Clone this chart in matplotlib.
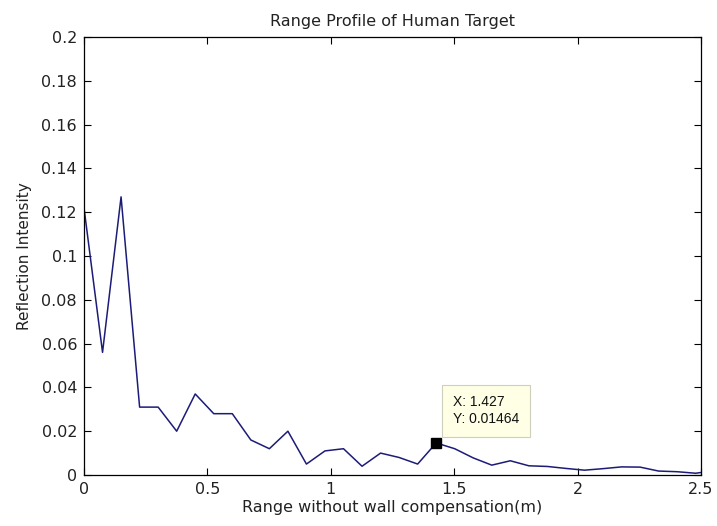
import numpy as np
import matplotlib.pyplot as plt

plt.rcParams['font.family'] = ['DejaVu Sans']

# range bins (m) and reflection intensity of the human target
step = 1.427 / 19
range_m = np.arange(35) * step
intensity = [0.122, 0.056, 0.127, 0.031, 0.031, 0.020, 0.037, 0.028, 0.028,
             0.016, 0.012, 0.020, 0.005, 0.011, 0.012, 0.004, 0.010, 0.008,
             0.005, 0.01464, 0.012, 0.0078, 0.0045, 0.0065, 0.0042, 0.0039,
             0.0030, 0.0022, 0.0029, 0.0037, 0.0036, 0.0018, 0.0015, 0.0008,
             0.0020]

tip_x = 1.427
tip_y = 0.01464

xticks = [0, 0.5, 1, 1.5, 2, 2.5]
xticklabels = ['0', '0.5', '1', '1.5', '2', '2.5']
yticks = np.arange(0, 0.201, 0.02)
yticklabels = ['0', '0.02', '0.04', '0.06', '0.08', '0.1', '0.12', '0.14',
               '0.16', '0.18', '0.2']

fig = plt.figure(figsize=(7.17, 5.26), dpi=100)
ax = fig.add_axes([84 / 717, 1 - 475 / 526, 617 / 717, 438 / 526])

ax.plot(range_m, intensity, color='#1c1c78', linewidth=1.1)
ax.plot([tip_x], [tip_y], marker='s', markersize=7, color='black',
        linestyle='none', zorder=5)

# data cursor box
ax.annotate('X: %.3f\nY: %.5f' % (tip_x, tip_y), xy=(tip_x, tip_y),
            xytext=(12, 12), textcoords='offset points', fontsize=10,
            family='Liberation Sans', linespacing=1.3, color='#111111',
            va='bottom', ha='left',
            bbox=dict(boxstyle='square,pad=0.75', fc='#ffffe6',
                      ec='#cfcfbe', lw=0.8))

ax.set_xlim(0, 2.5)
ax.set_ylim(0, 0.2)
ax.set_xticks(xticks)
ax.set_xticklabels(xticklabels)
ax.set_yticks(yticks)
ax.set_yticklabels(yticklabels)
ax.tick_params(direction='in', top=True, right=True, length=5, width=0.8,
               labelsize=11.5, pad=5, labelcolor='#222222')
for sp in ax.spines.values():
    sp.set_linewidth(0.9)

ax.set_title('Range Profile of Human Target', fontsize=11.5, pad=8,
             color='#222222')
ax.set_xlabel('Range without wall compensation(m)', fontsize=11.5,
              labelpad=2, color='#222222')
ax.set_ylabel('Reflection Intensity', fontsize=11, labelpad=7,
              color='#222222')

fig.savefig('out.png', dpi=100)
